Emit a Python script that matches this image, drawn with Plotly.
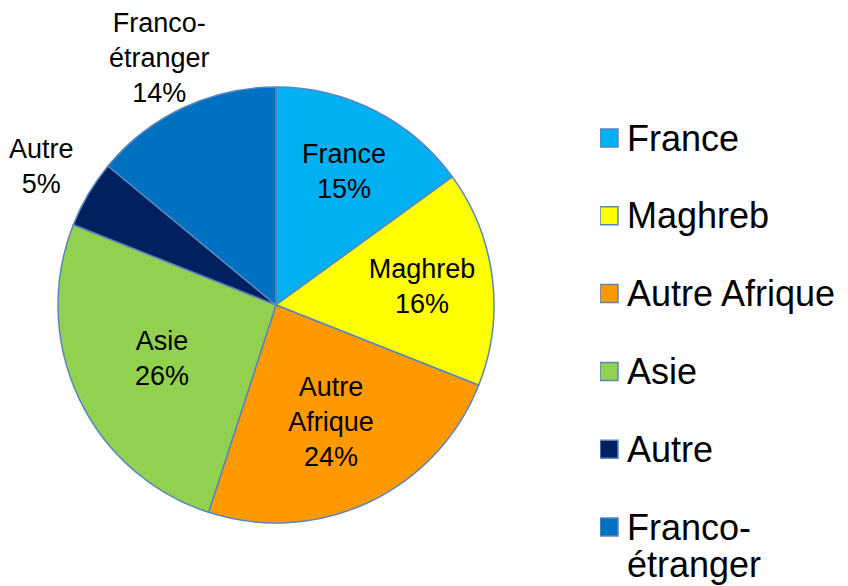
import math
import plotly.graph_objects as go

categories = ["France", "Maghreb", "Autre Afrique", "Asie", "Autre", "Franco-étranger"]
slice_labels = ["France", "Maghreb", "Autre<br>Afrique", "Asie", "Autre", "Franco-<br>étranger"]
legend_labels = ["France", "Maghreb", "Autre Afrique", "Asie", "Autre", "Franco-<br>étranger"]
values = [15, 16, 24, 26, 5, 14]
colors = ["#00B0F0", "#FFFF00", "#FF9900", "#92D050", "#002060", "#0070C0"]
outside = [False, False, False, False, True, True]

FONT = "Liberation Sans, Arial, sans-serif"
W, H = 848, 586
cx, cy, R = 276, 305, 218
LABEL_SIZE = 27
LEGEND_SIZE = 36
LEGEND_LINE = 37

fig = go.Figure()
fig.add_trace(go.Pie(
    labels=categories,
    values=values,
    text=slice_labels,
    texttemplate="%{text}<br>%{percent:.0%}",
    textposition=["none" if o else "inside" for o in outside],
    insidetextorientation="horizontal",
    sort=False,
    direction="clockwise",
    rotation=0,
    marker=dict(colors=colors, line=dict(color="#5A86C0", width=1.5)),
    textfont=dict(family=FONT, size=LABEL_SIZE, color="black"),
    showlegend=False,
    hoverinfo="label+percent",
    domain=dict(x=[(cx - R) / W, (cx + R) / W], y=[(H - cy - R) / H, (H - cy + R) / H]),
))

# outside labels placed along each slice's bisector, computed from the values
total = sum(values)
cum = 0
for v, lab, o in zip(values, slice_labels, outside):
    mid = (cum + v / 2) / total * 2 * math.pi
    cum += v
    if not o:
        continue
    r = R * 1.25
    px = cx + r * math.sin(mid)
    py = cy - r * math.cos(mid)
    fig.add_annotation(
        x=px / W, y=1 - py / H, xref="paper", yref="paper",
        text=f"{lab}<br>{round(v / total * 100)}%", showarrow=False,
        xanchor="center", yanchor="middle", align="center",
        font=dict(family=FONT, size=LABEL_SIZE, color="black"),
    )

# custom legend
n = len(categories)
fig.add_trace(go.Scatter(
    x=[0] * n,
    y=list(range(n)),
    mode="markers",
    marker=dict(symbol="square", size=18, color=colors, line=dict(color="#5A86C0", width=1.5)),
    xaxis="x2", yaxis="y2",
    showlegend=False,
    hoverinfo="skip",
))
for i, lab in enumerate(legend_labels):
    for k, line in enumerate(lab.split("<br>")):
        fig.add_annotation(
            x=0, y=i, xref="x2", yref="y2",
            text=line, showarrow=False,
            xanchor="left", yanchor="middle", align="left",
            xshift=16, yshift=-LEGEND_LINE * k,
            font=dict(family=FONT, size=LEGEND_SIZE, color="black"),
        )

step = 77.8
y_first = 138
fig.update_layout(
    width=W, height=H,
    margin=dict(l=0, r=0, t=0, b=0),
    paper_bgcolor="white",
    plot_bgcolor="rgba(0,0,0,0)",
    xaxis2=dict(domain=[600 / W, 1], range=[-9 / 248, 1 - 9 / 248], visible=False, fixedrange=True),
    yaxis2=dict(domain=[0, 1], range=[(H - y_first) / step, -y_first / step], visible=False, fixedrange=True),
)
fig.write_html("out.html", config={"displayModeBar": False},
               post_script="document.body.style.margin='0px';")
